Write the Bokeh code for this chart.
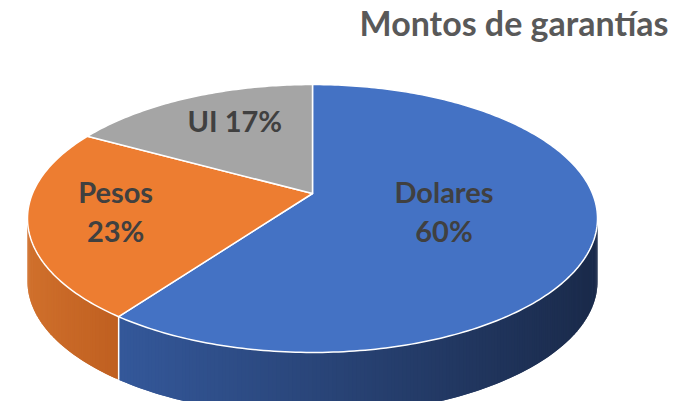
import numpy as np
from bokeh.plotting import figure
from bokeh.models import Range1d
from bokeh.core.properties import value
from bokeh.embed import file_html
from bokeh.resources import INLINE

# ---- data ----
title_text = "Montos de garantías"
categories = ["Dolares", "Pesos", "UI"]
shares = [60, 23, 17]
top_colors = ["#4472C4", "#ED7D31", "#A5A5A5"]
side_left_colors = ["#34589A", "#D0702C", "#8C8C8C"]
side_right_colors = ["#1A2A4A", "#BF5F20", "#7A7A7A"]

# ---- geometry (screen pixels of the picture) ----
CX, CY = 312.0, 193.0
A, B, K = 280.0, 129.3, 0.1866
DEPTH = 63.0
TEXT_SHIFT = -13.0


def proj(theta_deg, dz=0.0):
    th = np.radians(np.asarray(theta_deg, dtype=float))
    u, v = np.sin(th), np.cos(th)
    den = 1.0 + K * v
    return CX + A * u / den, CY - B * v / den + dz


def hex2rgb(h):
    h = h.lstrip("#")
    return np.array([int(h[i:i + 2], 16) for i in (0, 2, 4)], dtype=float)


def mix(c1, c2, t):
    c = hex2rgb(c1) * (1 - t) + hex2rgb(c2) * t
    return "#%02x%02x%02x" % tuple(int(round(x)) for x in c)


total = float(sum(shares))
ends = np.cumsum(shares) / total * 360.0
starts = np.concatenate([[0.0], ends[:-1]])

p = figure(width=671, height=401, x_range=Range1d(0, 671), y_range=Range1d(401, 0),
           output_backend="svg", toolbar_location=None, min_border=0,
           x_axis_type=None, y_axis_type=None, background_fill_color="white")
p.grid.visible = False
p.outline_line_color = None

# ---- side walls (visible front part) with gradient strips ----
vis_a = np.degrees(np.arccos(-K))
vis_b = 360.0 - vis_a
sx, sy, scol = [], [], []
seams = []
for i in range(len(shares)):
    a = max(starts[i], vis_a)
    b = min(ends[i], vis_b)
    if a >= b:
        continue
    n = int((b - a) * 1.5) + 2
    ts = np.linspace(a, b, n)
    dt = ts[1] - ts[0]
    xa, _ = proj(a)
    xb, _ = proj(b)
    lo, hi = min(xa, xb), max(xa, xb)
    for t0 in ts[:-1]:
        t1 = min(t0 + 2.0 * dt, b)
        x0, y0 = proj(t0)
        x1, y1 = proj(t1)
        xm, _ = proj(t0 + dt / 2)
        frac = (xm - lo) / (hi - lo) if hi > lo else 0.0
        sx.append([x0, x1, x1, x0])
        sy.append([y0, y1, y1 + DEPTH, y0 + DEPTH])
        scol.append(mix(side_left_colors[i], side_right_colors[i], float(np.clip(frac, 0, 1))))
    for edge in (starts[i], ends[i]):
        if vis_a < edge < vis_b:
            seams.append(edge)

p.patches(sx, sy, fill_color=scol, line_color=None)

for e in set(seams):
    x0, y0 = proj(e)
    p.segment(x0=[x0], y0=[y0], x1=[x0], y1=[y0 + DEPTH], line_color="white", line_width=1.5)

# ---- top face ----
txs, tys = [], []
for i in range(len(shares)):
    ts = np.linspace(starts[i], ends[i], int(shares[i] * 4) + 2)
    x, y = proj(ts)
    txs.append([CX] + list(x))
    tys.append([CY] + list(y))
p.patches(txs, tys, fill_color=top_colors, line_color="white", line_width=1.5, line_join="round")

# ---- labels ----
label_r = [0.48, 0.70, 0.70]
label_dx = [0, 0, 12]
font = dict(text_font=value("Lato"), text_font_style="bold", text_font_size="29px",
            text_color="#404040", text_align="center", text_baseline="alphabetic")
for i, name in enumerate(categories):
    mid = np.radians((starts[i] + ends[i]) / 2)
    r = label_r[i]
    den = 1 + K * r * np.cos(mid)
    lx = CX + A * r * np.sin(mid) / den + label_dx[i]
    ly = CY - B * r * np.cos(mid) / den + TEXT_SHIFT
    pct = "%d%%" % round(shares[i] / total * 100)
    if name == "UI":
        p.text(x=[lx], y=[ly + 10], text=["%s %s" % (name, pct)], **font)
    else:
        p.text(x=[lx], y=[ly - 9], text=[name], **font)
        p.text(x=[lx], y=[ly + 30], text=[pct], **font)

# ---- title ----
p.text(x=[668], y=[35 + TEXT_SHIFT], text=[title_text], text_font=value("Lato"), text_font_style="bold",
       text_font_size="34px", text_color="#595959", text_align="right", text_baseline="alphabetic")

open("out.html", "w").write(file_html(p, INLINE))
